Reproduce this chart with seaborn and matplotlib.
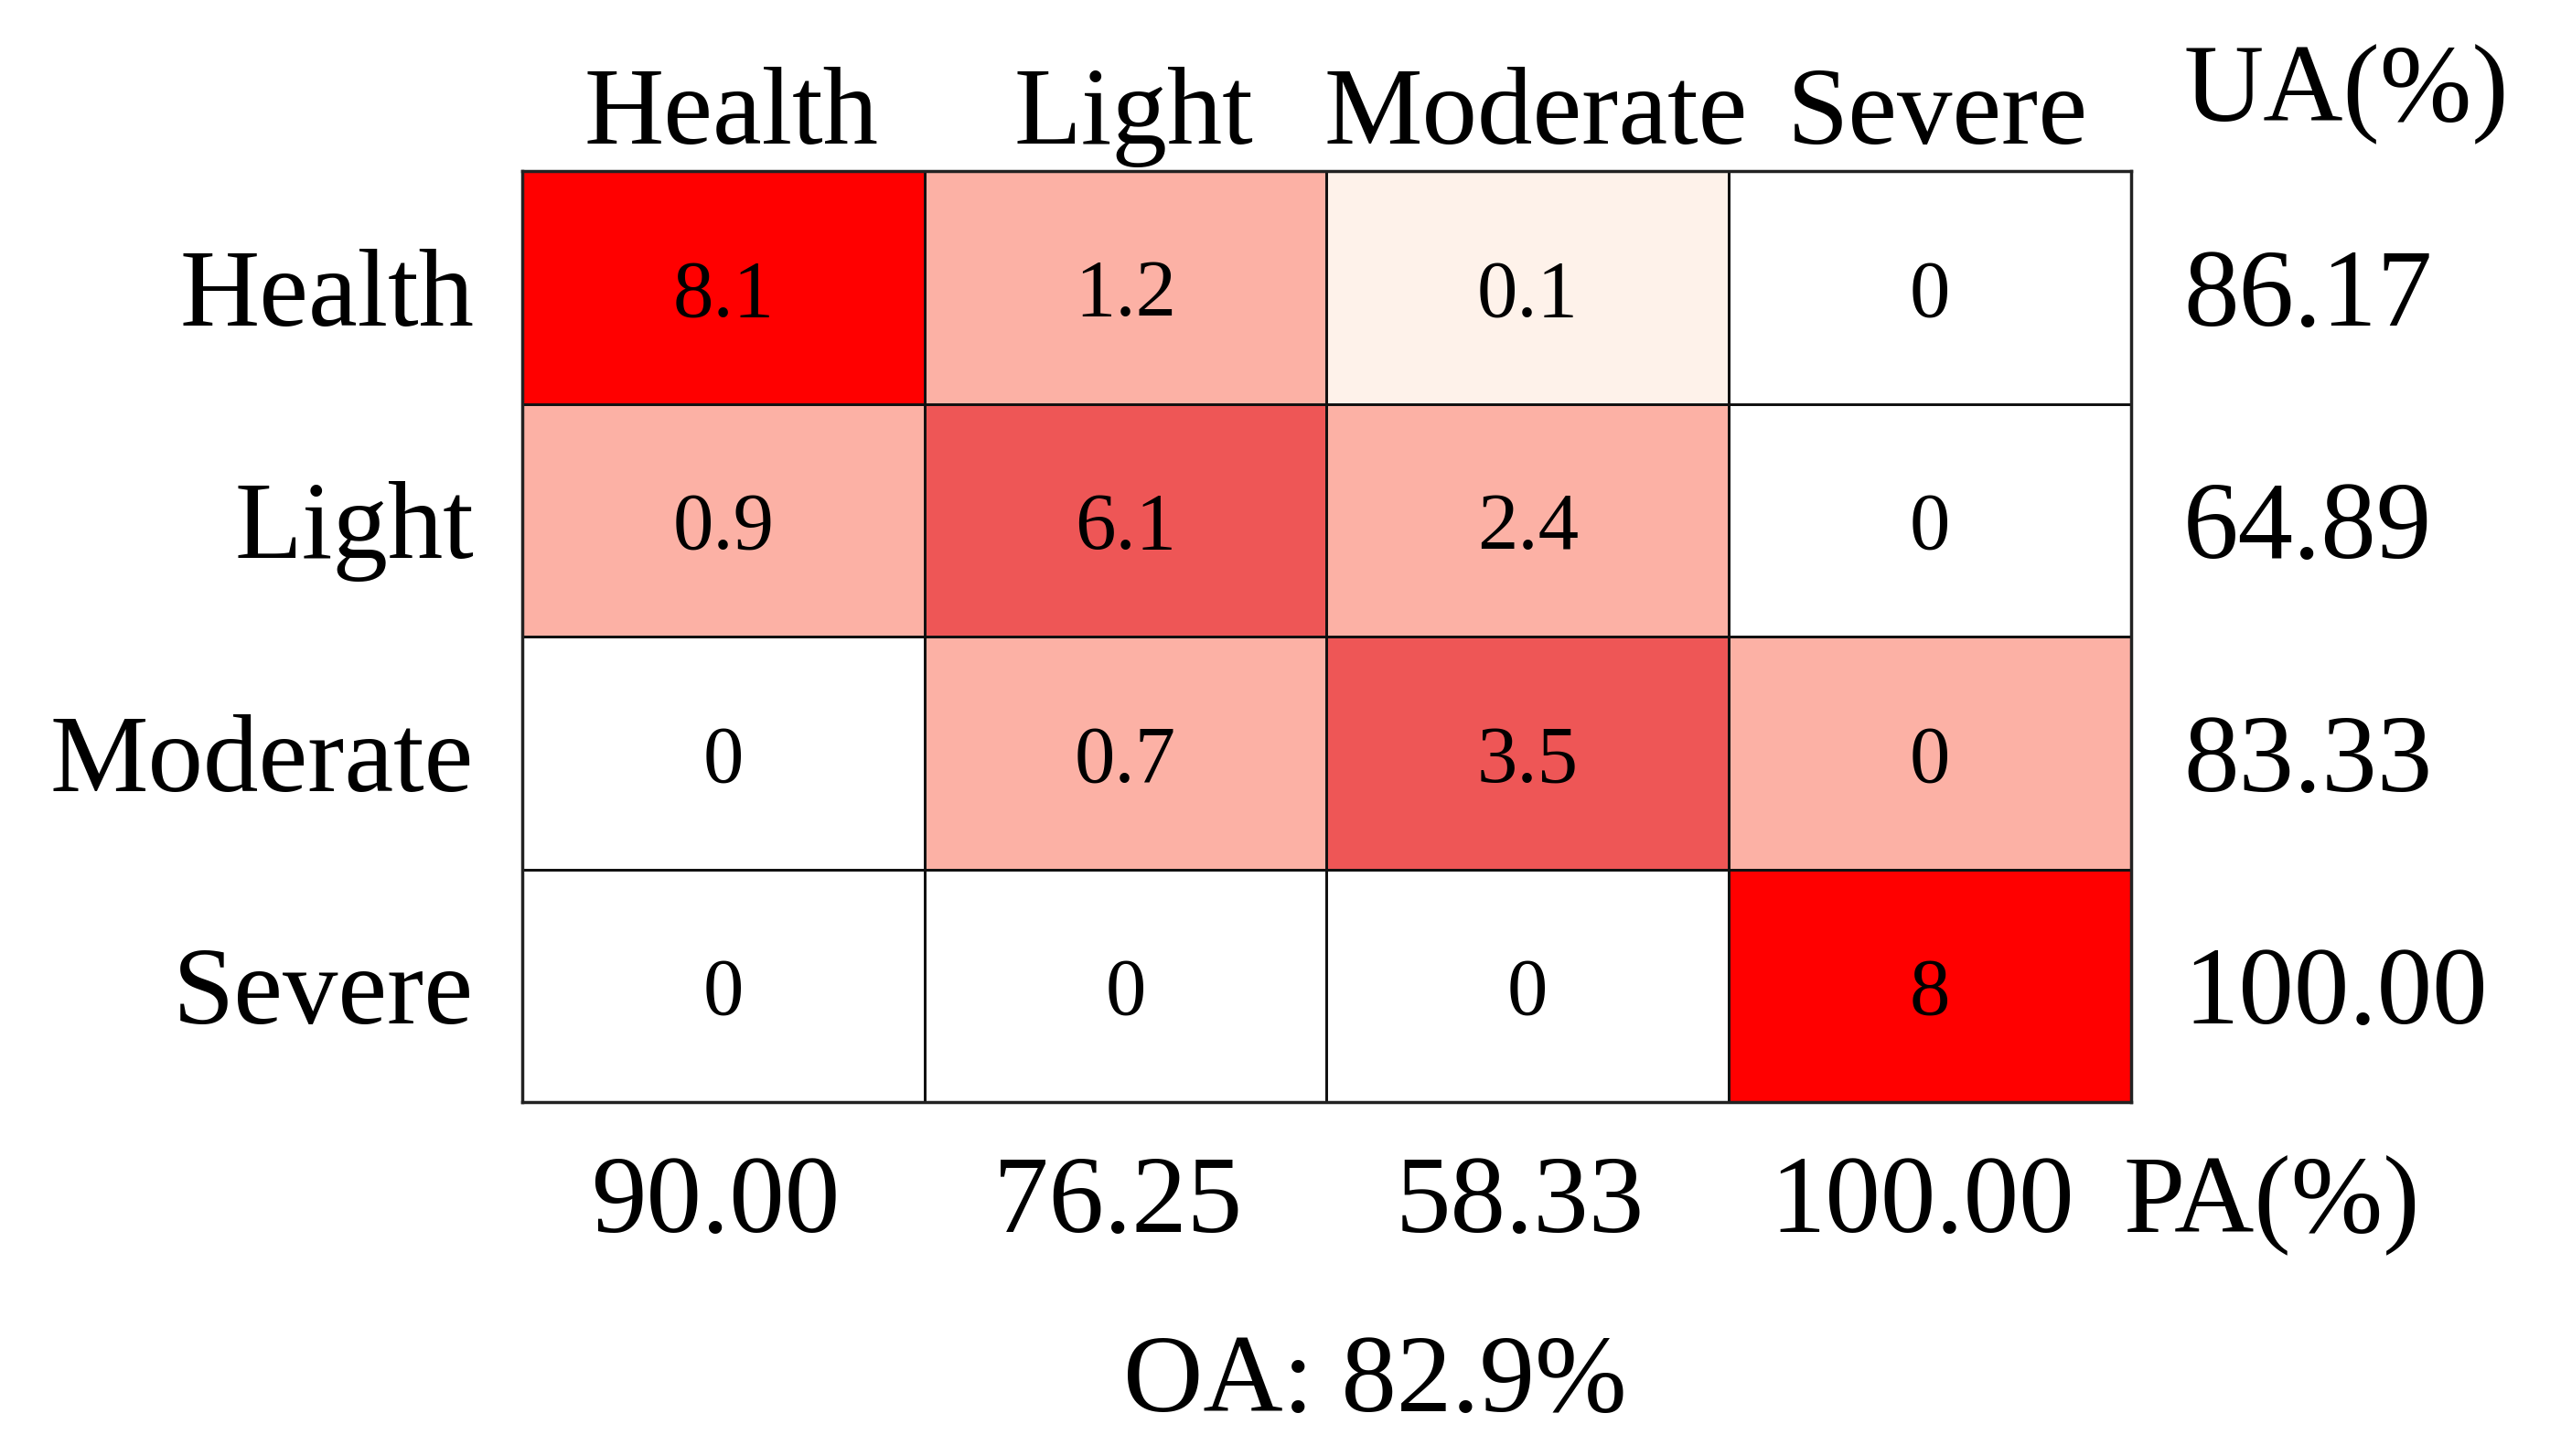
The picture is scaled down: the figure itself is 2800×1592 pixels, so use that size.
"""
plot.py
Confusion matrix of disease severity classes with user's (UA),
producer's (PA) and overall (OA) accuracy drawn around the grid.
"""

import numpy as np
import matplotlib
matplotlib.use("Agg")
import matplotlib.pyplot as plt
from matplotlib.colors import ListedColormap
import seaborn as sns

# ---------------------------------------------------------
# Data
# ---------------------------------------------------------
classes = ["Health", "Light", "Moderate", "Severe"]

counts = [
    [8.1, 1.2, 0.1, 0],
    [0.9, 6.1, 2.4, 0],
    [0, 0.7, 3.5, 0],
    [0, 0, 0, 8],
]

# shade class of every cell as coloured in the figure (0 = blank ... 4 = full red)
shade_level = [
    [4, 2, 1, 0],
    [2, 3, 2, 0],
    [0, 2, 3, 2],
    [0, 0, 0, 4],
]

ua = ["86.17", "64.89", "83.33", "100.00"]
pa = ["90.00", "76.25", "58.33", "100.00"]
oa_text = "OA: 82.9%"

# ---------------------------------------------------------
# Style
# ---------------------------------------------------------
sns.set_style("white")
plt.rcParams["font.family"] = ["Liberation Serif", "DejaVu Serif"]
plt.rcParams["text.color"] = "black"

shade_colors = ["#FFFFFF", "#FEF2EA", "#FCB1A5", "#EE5656", "#FF0000"]
cmap = ListedColormap(shade_colors)

LABEL_SIZE = 87
CELL_SIZE = 64

# ---------------------------------------------------------
# Plot
# ---------------------------------------------------------
fig = plt.figure(figsize=(28, 15.92), dpi=100)
ax = fig.add_axes([0.2039, 0.2431, 0.6282, 0.6394])

sns.heatmap(
    np.array(shade_level),
    annot=np.array(counts),
    fmt="g",
    cmap=cmap,
    vmin=-0.5,
    vmax=4.5,
    cbar=False,
    linewidths=2,
    linecolor="#111111",
    annot_kws={"size": CELL_SIZE, "color": "black", "va": "center_baseline"},
    xticklabels=False,
    yticklabels=False,
    ax=ax,
)

for side in ["top", "bottom", "left", "right"]:
    ax.spines[side].set_visible(True)
    ax.spines[side].set_color("#222222")
    ax.spines[side].set_linewidth(2.5)

# half cap height in row units, so text baselines put caps at row centres
cap_off = 0.163

# column labels on top, row labels on the left
for j, name in enumerate(classes):
    ax.text(j + 0.52, -0.12, name, ha="center", va="baseline",
            fontsize=LABEL_SIZE, clip_on=False)
for i, name in enumerate(classes):
    ax.text(-0.12, i + 0.5 + cap_off, name, ha="right", va="baseline",
            fontsize=LABEL_SIZE, clip_on=False)

# user's accuracy column
ax.text(4.13, -0.215, "UA(%)", ha="left", va="baseline",
        fontsize=LABEL_SIZE, clip_on=False)
for i, val in enumerate(ua):
    ax.text(4.13, i + 0.5 + cap_off, val, ha="left", va="baseline",
            fontsize=LABEL_SIZE, clip_on=False)

# producer's accuracy row
for j, val in enumerate(pa):
    ax.text(j + 0.48, 4.56, val, ha="center", va="baseline",
            fontsize=LABEL_SIZE, clip_on=False)
ax.text(3.98, 4.56, "PA(%)", ha="left", va="baseline",
        fontsize=LABEL_SIZE, clip_on=False)

# overall accuracy
ax.text(2.12, 5.33, oa_text, ha="center", va="baseline",
        fontsize=LABEL_SIZE, clip_on=False)

fig.savefig("out.png", dpi=100, facecolor="white")
plt.close(fig)
print("Saved out.png")
